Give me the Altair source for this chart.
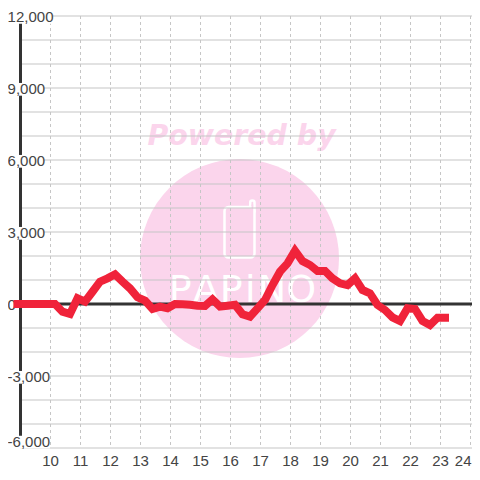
import altair as alt
import pandas as pd

hours = [8.9 + 0.25 * k for k in range(58)]
values = [0, 0, 0, 0, 0, 0, -320, -417, 236, 97, 510, 930, 1070, 1236, 930, 650, 280, 140, -208, -110,
          -180, 0, -14, -28, -70, -83, 194, -110, -70, -28, -430, -528, -180, 167, 790, 1347, 1694, 2222,
          1790, 1625, 1375, 1375, 1070, 860, 790, 1070, 583, 444, -42, -250, -555, -708, -180, -208,
          -708, -875, -570, -570]
y_labels = ["12,000", "9,000", "6,000", "3,000", "0", "-3,000", "-6,000"]
y_label_pos = [11970, 8970, 5970, 2970, -30, -3030, -5730]
y_label_end = [10.08, 9.78, 9.78, 9.78, 9.0, 9.98, 9.98]
y_grid = list(range(-6000, 12001, 1000))
x_ticks = list(range(10, 25))
brand_letters = ["P", "A", "P", "i", "N", "O"]
brand_hours = [14.32, 15.18, 16.02, 16.66, 17.38, 18.36]

X = alt.Scale(domain=[9, 24.05], nice=False, zero=False)
Y = alt.Scale(domain=[-6000, 12000], nice=False, zero=False)
GRID = "#c6c6c6"
INK = "#333333"
PINK = "#fbd5ec"
FONT = "Liberation Sans"


def xq(name="h"):
    return alt.X(f"{name}:Q", scale=X, axis=None)


def yq(name="v"):
    return alt.Y(f"{name}:Q", scale=Y, axis=None)


circle = alt.Chart(pd.DataFrame({"h": [16.3], "v": [1896]})).mark_point(
    shape="circle", filled=True, color=PINK, opacity=1, size=39601).encode(x=xq(), y=yq())
powered = alt.Chart(pd.DataFrame({"h": [16.37], "v": [6625], "t": ["Powered by"]})).mark_text(
    font="DejaVu Sans", fontWeight="bold", fontStyle="italic", fontSize=28.4, color=PINK,
    align="center", baseline="alphabetic").encode(x=xq(), y=yq(), text="t:N")
antenna = alt.Chart(pd.DataFrame({"h": [16.657], "h2": [16.8], "v": [3800], "v2": [4312]})).mark_rect(
    fill=PINK, stroke="white", strokeWidth=2.5, cornerRadius=2).encode(x=xq(), x2="h2:Q", y=yq(), y2="v2:Q")
phone = alt.Chart(pd.DataFrame({"h": [15.8], "h2": [16.8], "v": [1937], "v2": [4042]})).mark_rect(
    fill=PINK, stroke="white", strokeWidth=2.5, cornerRadius=4).encode(x=xq(), x2="h2:Q", y=yq(), y2="v2:Q")
neck = alt.Chart(pd.DataFrame({"h": [16.7], "h2": [16.758], "v": [3900], "v2": [4150]})).mark_rect(
    fill=PINK).encode(x=xq(), x2="h2:Q", y=yq(), y2="v2:Q")
brand = alt.Chart(pd.DataFrame({"h": brand_hours, "v": [83] * 6, "t": brand_letters})).mark_text(
    font="DejaVu Sans", fontSize=38, color="white", align="center", baseline="alphabetic").encode(
    x=xq(), y=yq(), text="t:N")

ygrid = alt.Chart(pd.DataFrame({"v": y_grid})).mark_rule(color=GRID, strokeWidth=1.2).encode(y=yq())
xgrid = alt.Chart(pd.DataFrame({"h": x_ticks})).mark_rule(
    color=GRID, strokeWidth=1, strokeDash=[3, 3]).encode(x=xq())
zero = alt.Chart(pd.DataFrame({"v": [0]})).mark_rule(color=INK, strokeWidth=3).encode(y=yq())
yaxis = alt.Chart(pd.DataFrame({"h": [9]})).mark_rule(color=INK, strokeWidth=3).encode(x=xq())

labels_df = pd.DataFrame({
    "t": y_labels, "v": y_label_pos, "lo": [p - 290 for p in y_label_pos], "hi": [p + 240 for p in y_label_pos],
    "h": [8.93] * 7, "h2": y_label_end, "tx": [8.57] * 7,
})
backs = alt.Chart(labels_df).transform_filter("datum.t != '0'").mark_rect(fill="white", clip=False).encode(
    x=xq(), x2="h2:Q", y=yq("lo"), y2="hi:Q")
ylabels = alt.Chart(labels_df).mark_text(
    font=FONT, fontSize=15, color="#444444", align="left", baseline="middle", clip=False).encode(
    x=xq("tx"), y=yq(), text="t:N")
xlabels = alt.Chart(pd.DataFrame({"h": x_ticks[:-1]})).mark_text(
    font=FONT, fontSize=15, color="#444444", align="center", baseline="middle").encode(
    x=xq(), y=alt.value(445), text="h:Q")
xlabel_last = alt.Chart(pd.DataFrame({"h": x_ticks[-1:]})).mark_text(
    font=FONT, fontSize=15, color="#444444", align="right", baseline="middle", dx=1).encode(
    x=xq(), y=alt.value(445), text="h:Q")

line = alt.Chart(pd.DataFrame({"h": hours, "v": values})).mark_line(
    color="#f0233a", strokeWidth=8, strokeCap="square", strokeJoin="miter", clip=False).encode(x=xq(), y=yq())

chart = alt.layer(circle, powered, antenna, phone, neck, brand, ygrid, xgrid, zero, yaxis, backs, ylabels,
                  xlabels, xlabel_last, line).properties(
    width=451.5, height=432,
    padding={"left": 12.5, "top": 8, "right": 0, "bottom": 20},
    autosize=alt.AutoSizeParams(type="none"),
).configure_view(stroke=None)
chart.save("out.html", embed_options={"renderer": "svg", "actions": False})
